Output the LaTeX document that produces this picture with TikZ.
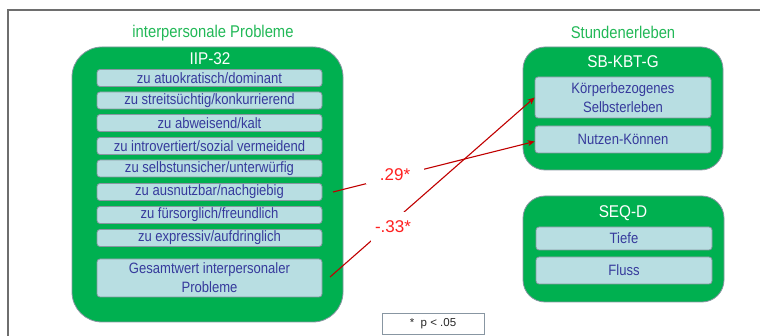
\documentclass[tikz,border=0pt]{standalone}
\usepackage{fontspec}
\setmainfont{Liberation Sans}
\newfontfamily\narrowfont[FakeStretch=0.87]{Liberation Sans}
\newfontfamily\titlefont[FakeStretch=0.9]{Liberation Sans}
\usetikzlibrary{arrows.meta}
\definecolor{boxgreen}{HTML}{00B050}
\definecolor{titlegreen}{HTML}{22B857}
\definecolor{itemfill}{HTML}{B8DEE2}
\definecolor{itemborder}{HTML}{8896A2}
\definecolor{itemtext}{HTML}{363A9C}
\definecolor{arrowred}{HTML}{C00000}
\definecolor{labelred}{HTML}{FF2020}
\definecolor{framegray}{HTML}{6E6E6E}
\begin{document}
\begin{tikzpicture}[x=1pt,y=-1pt,
  group/.style={draw=itemborder, line width=0.8pt, fill=boxgreen, inner sep=0pt},
  item/.style={draw=itemborder, line width=0.8pt, fill=itemfill, rounded corners=3pt,
    text=itemtext, font=\narrowfont\fontsize{15}{18}\selectfont, align=center, inner sep=0pt},
  grouptitle/.style={text=white, font=\titlefont\fontsize{17}{19}\selectfont, inner sep=0pt},
  areatitle/.style={text=titlegreen, font=\narrowfont\fontsize{17}{19}\selectfont, inner sep=0pt},
  coef/.style={text=labelred, fill=white, font=\fontsize{17}{19}\selectfont, inner sep=0pt},
  conn/.style={draw=arrowred, line width=1.1pt, -{Stealth[length=7pt,width=6pt]}},
]
\useasboundingbox (0,0) rectangle (760,336);
% frame
\draw[framegray, line width=1.4pt] (760,10) -- (8,10) -- (8,336);

% titles
\node[areatitle] (t1) at (213,33) {interpersonale Probleme};
\node[areatitle] (t2) at (623,32) {Stundenerleben};

% left group
\node[group, rounded corners=30pt, minimum width=271pt, minimum height=275pt] (iip) at (207.5,184.5) {};
\node[grouptitle] (iipt) at (210,59) {IIP-32};
\node[item, minimum width=225pt, minimum height=17pt] (i1) at (209.5,78) {zu atuokratisch/dominant};
\node[item, minimum width=225pt, minimum height=17pt] (i2) at (209.5,100.5) {zu streitsüchtig/konkurrierend};
\node[item, minimum width=225pt, minimum height=17pt] (i3) at (209.5,123) {zu abweisend/kalt};
\node[item, minimum width=225pt, minimum height=17pt] (i4) at (209.5,146) {zu introvertiert/sozial vermeidend};
\node[item, minimum width=225pt, minimum height=17pt] (i5) at (209.5,168.5) {zu selbstunsicher/unterwürfig};
\node[item, minimum width=225pt, minimum height=17pt] (i6) at (209.5,192) {zu ausnutzbar/nachgiebig};
\node[item, minimum width=225pt, minimum height=17pt] (i7) at (209.5,215) {zu fürsorglich/freundlich};
\node[item, minimum width=225pt, minimum height=17pt] (i8) at (209.5,238) {zu expressiv/aufdringlich};
\node[item, minimum width=225pt, minimum height=38pt, font=\narrowfont\fontsize{15}{19}\selectfont] (i9) at (209.5,278) {Gesamtwert interpersonaler\\Probleme};

% right top group
\node[group, rounded corners=22pt, minimum width=200pt, minimum height=123pt] (sb) at (623,108.5) {};
\node[grouptitle] (sbt) at (623,62) {SB-KBT-G};
\node[item, minimum width=176pt, minimum height=41pt, font=\narrowfont\fontsize{15}{19}\selectfont] (kb) at (623,97.5) {Körperbezogenes\\Selbsterleben};
\node[item, minimum width=176pt, minimum height=27pt] (nk) at (623,139.5) {Nutzen-Können};

% right bottom group
\node[group, rounded corners=22pt, minimum width=201pt, minimum height=106pt] (seq) at (623.5,249) {};
\node[grouptitle] (seqt) at (623,213) {SEQ-D};
\node[item, minimum width=176pt, minimum height=23pt] (tf) at (624,238.5) {Tiefe};
\node[item, minimum width=176pt, minimum height=27pt] (fl) at (624,270.5) {Fluss};

% connectors
\coordinate (s1) at (333,192);
\coordinate (s2) at (330,277);
\draw[conn] (s1) -- ([yshift=-2pt]nk.west);
\draw[conn] (s2) -- (kb.west);
\node[coef, minimum width=58pt, minimum height=20pt] (c1) at (395,174.5) {.29*};
\node[coef, minimum width=45pt, minimum height=30pt] (c2) at (393,227) {-.33*};

% legend
\node[draw=itemborder, line width=0.8pt, minimum width=102pt, minimum height=21pt, inner sep=0pt,
  font=\fontsize{11.5}{13}\selectfont, text=black!85] (leg) at (433,323.5) {*\ \ p < .05};
\end{tikzpicture}
\end{document}
